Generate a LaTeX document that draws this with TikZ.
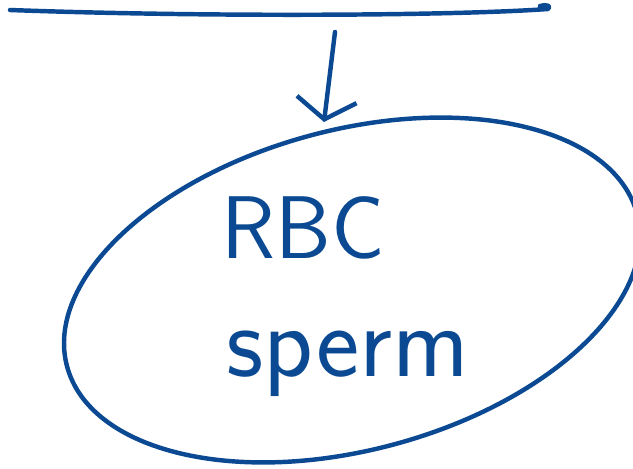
\documentclass[tikz,border=0pt]{standalone}
\usetikzlibrary{arrows.meta, positioning, shapes.geometric}
\definecolor{inkblue}{HTML}{0B4A93}
\tikzset{
  every picture/.style={line width=3.8pt, line cap=round, line join=round},
  ink/.style={draw=inkblue},
  cell/.style={ellipse, draw=inkblue, line width=3.8pt, minimum width=17.7cm, minimum height=9.6cm, rotate=15},
  word/.style={text=inkblue, font=\sffamily\fontsize{76}{80}\selectfont, inner sep=0pt},
  drop/.style={-{Straight Barb[length=6mm, width=18mm, line width=3.8pt]}, draw=inkblue},
}
\begin{document}
\begin{tikzpicture}[x=0.03cm, y=-0.03cm]
  \useasboundingbox (0,0) rectangle (633,469);
  % bar at the top
  \coordinate (bar west) at (10,10);
  \coordinate (bar east) at (548,9);
  \draw[ink] (bar west) .. controls (200,17) and (450,16) .. (bar east)
    .. controls (552,6) and (546,4) .. (540,6);
  % the cell
  \node[cell] (blob) at (352,290) {};
  \node[word] (rbc) at (303,228) {RBC};
  \node[word, font=\sffamily\fontsize{88}{90}\selectfont] (sperm) at (348,364) {sperm};
  % arrow down into the cell
  \coordinate (start) at (335,32);
  \coordinate (tip) at (324,122);
  \draw[drop] (start) -- (tip);
\end{tikzpicture}
\end{document}
